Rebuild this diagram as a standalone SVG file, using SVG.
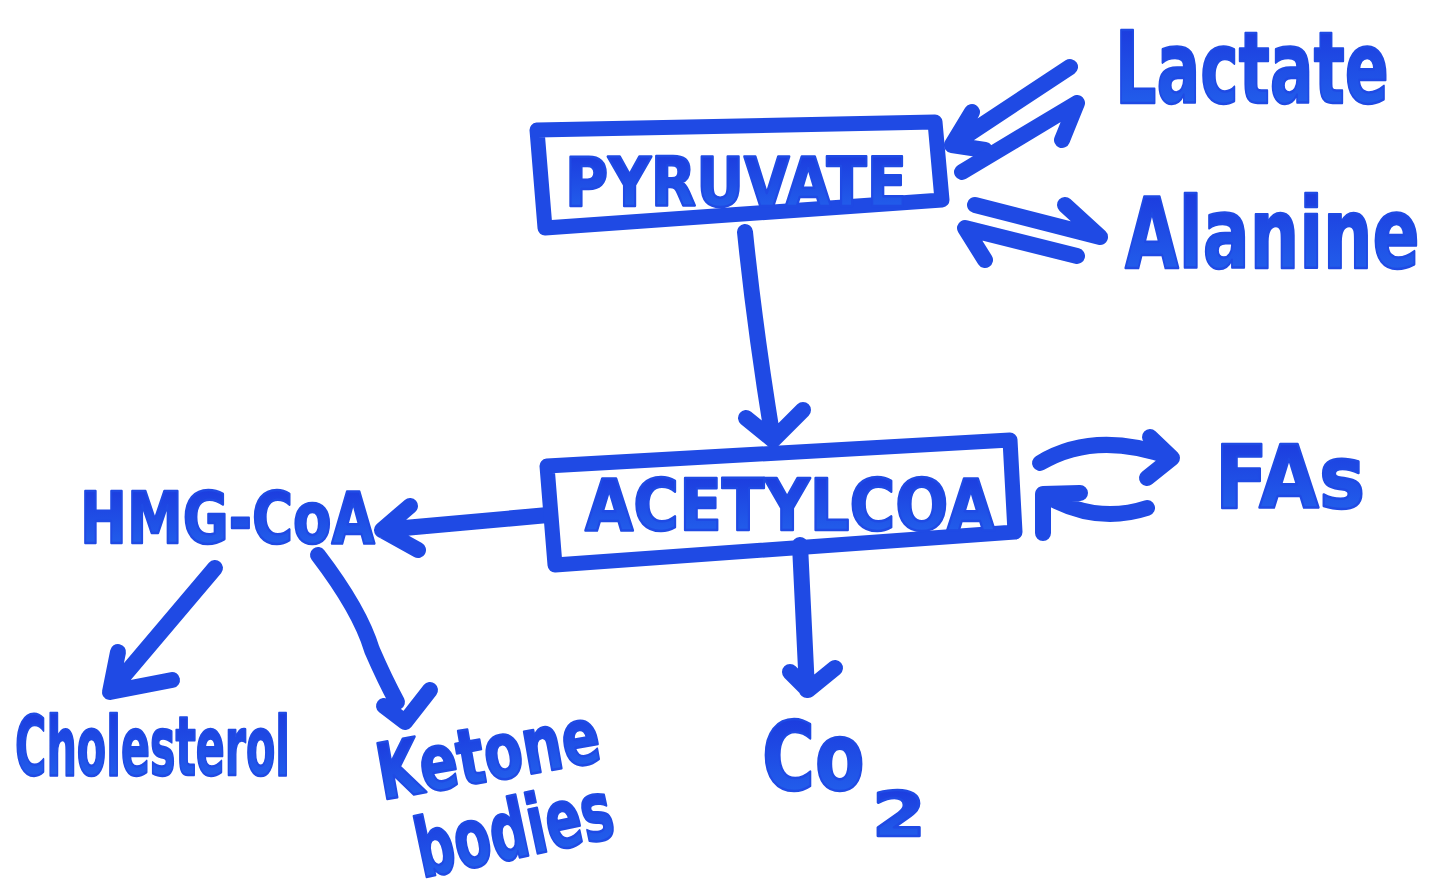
<svg xmlns="http://www.w3.org/2000/svg" width="1439" height="896" viewBox="0 0 1439 896">
  <defs>
    <linearGradient id="ink" x1="0" y1="0" x2="0" y2="1">
      <stop offset="0" stop-color="#1b35dc"/>
      <stop offset="1" stop-color="#2366ee"/>
    </linearGradient>
    <style>
      .pen { fill: none; stroke: #1f4ae4; stroke-width: 16; stroke-linecap: round; stroke-linejoin: round; }
      .box { fill: none; stroke: #1f4ae4; stroke-width: 15; stroke-linecap: round; stroke-linejoin: round; }
      .lbl { font-family: "DejaVu Sans", "Liberation Sans", sans-serif; font-weight: bold; fill: url(#ink); stroke: #1f4ae4; stroke-width: 2.5; stroke-linejoin: round; }
    </style>
  </defs>
  <rect width="1439" height="896" fill="#ffffff"/>

  <!-- connectors -->
  <g id="connectors">
    <!-- pyruvate <-> lactate -->
    <path class="pen" d="M1070,67 L952,145 M972,112 L952,145 L985,150"/>
    <path class="pen" d="M962,172 L1077,103 M1062,140 L1077,103"/>
    <!-- pyruvate <-> alanine -->
    <path class="pen" d="M975,205 L1100,237 M1065,205 L1100,237"/>
    <path class="pen" d="M1077,256 L965,228 L985,260"/>
    <!-- pyruvate -> acetyl CoA -->
    <path class="pen" d="M745,232 Q755,330 773,440 M746,418 L773,440 L803,410"/>
    <!-- acetyl CoA <-> fatty acids -->
    <path class="pen" d="M1040,463 Q1095,430 1170,457 M1150,437 L1172,458 L1147,478"/>
    <path class="pen" d="M1147,508 Q1095,525 1043,494 L1043,533 M1043,494 L1080,493"/>
    <!-- acetyl CoA -> HMG-CoA -->
    <path class="pen" d="M548,515 L382,530 M410,506 L382,530 L418,550"/>
    <!-- acetyl CoA -> CO2 -->
    <path class="pen" d="M800,545 L807,690 M790,672 L808,690 L835,668"/>
    <!-- HMG-CoA -> cholesterol -->
    <path class="pen" d="M215,568 L110,692 M118,652 L110,692 L172,680"/>
    <!-- HMG-CoA -> ketone bodies -->
    <path class="pen" d="M318,555 Q360,610 372,650 Q385,680 397,702 M384,706 L405,722 L430,690"/>
  </g>

  <g id="pyruvate">
    <path class="box" d="M537,130 L935,122 L942,200 L545,228 Z"/>
    <text class="lbl" x="565" y="206" font-size="68" textLength="342" lengthAdjust="spacingAndGlyphs">PYRUVATE</text>
  </g>

  <g id="lactate">
    <text class="lbl" transform="translate(1115,103) scale(0.65,1)" font-size="100">Lactate</text>
  </g>

  <g id="alanine">
    <text class="lbl" transform="translate(1125,268) scale(0.71,1)" font-size="98">Alanine</text>
  </g>

  <g id="acetylcoa">
    <path class="box" d="M547,466 L1010,440 L1015,532 L555,565 Z"/>
    <text class="lbl" x="585" y="530" font-size="72" textLength="410" lengthAdjust="spacingAndGlyphs">ACETYLCOA</text>
  </g>

  <g id="fas">
    <text class="lbl" x="1215" y="508" font-size="88" textLength="150" lengthAdjust="spacingAndGlyphs">FAs</text>
  </g>

  <g id="hmgcoa">
    <text class="lbl" x="80" y="543" font-size="72" textLength="295" lengthAdjust="spacingAndGlyphs">HMG-CoA</text>
  </g>

  <g id="cholesterol">
    <text class="lbl" x="15" y="775" font-size="82" textLength="275" lengthAdjust="spacingAndGlyphs">Cholesterol</text>
  </g>

  <g id="ketone-bodies">
    <text class="lbl" x="382" y="800" font-size="78" textLength="225" lengthAdjust="spacingAndGlyphs" transform="rotate(-10 382 800)">Ketone</text>
    <text class="lbl" x="422" y="878" font-size="82" textLength="200" lengthAdjust="spacingAndGlyphs" transform="rotate(-12 422 878)">bodies</text>
  </g>

  <g id="co2">
    <text class="lbl" transform="translate(762,790) scale(0.76,1)" font-size="95">Co</text>
    <text class="lbl" transform="translate(872,836) scale(1.25,1)" font-size="62">2</text>
  </g>
</svg>
